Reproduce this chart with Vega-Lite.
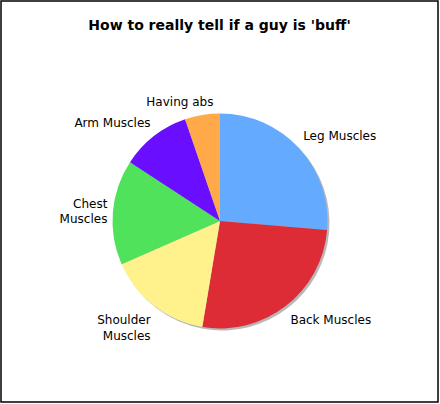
{
  "$schema": "https://vega.github.io/schema/vega-lite/v6.json",
  "width": 440,
  "height": 404,
  "autosize": {"type": "fit", "contains": "padding"},
  "padding": {"left": 1, "top": 1, "right": 2, "bottom": 2},
  "background": "white",
  "view": {"stroke": "#000", "strokeWidth": 1.5, "fill": "white"},
  "config": {"view": {"stroke": "#000", "strokeWidth": 1.5}, "font": "DejaVu Sans"},
  "title": {"text": "How to really tell if a guy is 'buff'", "fontSize": 14, "fontWeight": "bold", "font": "DejaVu Sans", "color": "#000", "anchor": "middle", "offset": -32},
  "data": {"values": [
    {"label": "Leg Muscles", "value": 25},
    {"label": "Back Muscles", "value": 25},
    {"label": "Shoulder Muscles", "value": 15},
    {"label": "Chest Muscles", "value": 15},
    {"label": "Arm Muscles", "value": 10},
    {"label": "Having abs", "value": 5}
  ]},
  "encoding": {
    "theta": {"field": "value", "type": "quantitative", "stack": true},
    "order": {"field": "value", "type": "quantitative", "sort": "descending"}
  },
  "layer": [
    {"mark": {"type": "arc", "radius": 107.5, "xOffset": 2.5, "yOffset": 21.5, "fill": "#b8b8b8"},
     "encoding": {"detail": {"field": "label"}}},
    {"mark": {"type": "arc", "radius": 107.5, "xOffset": 0.5, "yOffset": 19.5},
     "encoding": {"color": {"field": "label", "type": "nominal", "legend": null,
       "scale": {"domain": ["Leg Muscles", "Back Muscles", "Shoulder Muscles", "Chest Muscles", "Arm Muscles", "Having abs"],
                 "range": ["#64aaff", "#de2c36", "#fff28c", "#4fe25a", "#6a0eff", "#ffa948"]}}}},
    {"mark": {"type": "text", "radius": 113, "xOffset": 0.5, "yOffset": 18, "align": "left", "baseline": "bottom", "fontSize": 12, "fill": "#000"},
     "encoding": {"detail": {"field": "label"}, "text": {"condition": {"test": "datum.label === 'Leg Muscles'", "field": "label"}, "value": ""}}},
    {"mark": {"type": "text", "radius": 113, "xOffset": 1.5, "yOffset": 24.5, "align": "left", "baseline": "top", "fontSize": 12, "fill": "#000"},
     "encoding": {"detail": {"field": "label"}, "text": {"condition": {"test": "datum.label === 'Back Muscles'", "field": "label"}, "value": ""}}},
    {"mark": {"type": "text", "radius": 113, "xOffset": 0.5, "yOffset": 24.5, "align": "right", "baseline": "top", "fontSize": 12, "fill": "#000", "lineBreak": " ", "lineHeight": 15.5},
     "encoding": {"detail": {"field": "label"}, "text": {"condition": {"test": "datum.label === 'Shoulder Muscles'", "field": "label"}, "value": ""}}},
    {"mark": {"type": "text", "radius": 113, "xOffset": 0.5, "yOffset": 11.5, "align": "right", "baseline": "middle", "fontSize": 12, "fill": "#000", "lineBreak": " ", "lineHeight": 15.5},
     "encoding": {"detail": {"field": "label"}, "text": {"condition": {"test": "datum.label === 'Chest Muscles'", "field": "label"}, "value": ""}}},
    {"mark": {"type": "text", "radius": 113, "xOffset": 0.5, "yOffset": 17.5, "align": "right", "baseline": "bottom", "fontSize": 12, "fill": "#000"},
     "encoding": {"detail": {"field": "label"}, "text": {"condition": {"test": "datum.label === 'Arm Muscles'", "field": "label"}, "value": ""}}},
    {"mark": {"type": "text", "radius": 113, "xOffset": 12.5, "yOffset": 18.5, "align": "right", "baseline": "bottom", "fontSize": 12, "fill": "#000"},
     "encoding": {"detail": {"field": "label"}, "text": {"condition": {"test": "datum.label === 'Having abs'", "field": "label"}, "value": ""}}}
  ]
}
